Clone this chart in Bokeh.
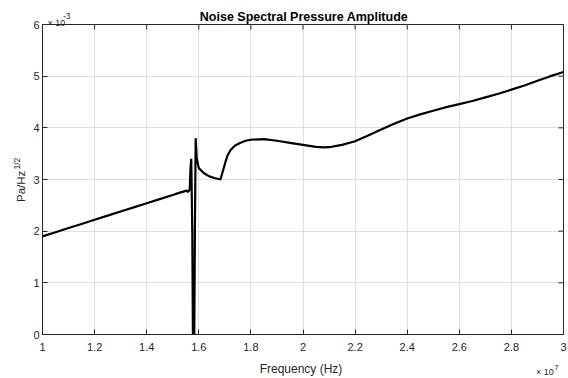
import math
from bokeh.plotting import figure
from bokeh.models import Range1d, FixedTicker, Label
from bokeh.embed import file_html
from bokeh.resources import INLINE

# Frequency in units of 1e7 Hz
freq = [1.00, 1.05, 1.10, 1.15, 1.20, 1.25, 1.30, 1.35, 1.40, 1.45, 1.50, 1.53,
        1.545, 1.552, 1.558, 1.565, 1.568, 1.571, 1.575, 1.578, 1.582, 1.585,
        1.588, 1.592, 1.60, 1.62, 1.64, 1.66, 1.683, 1.69, 1.703, 1.71, 1.722,
        1.74, 1.76, 1.78, 1.80, 1.85, 1.90, 1.95, 2.00, 2.05, 2.08, 2.10, 2.15,
        2.20, 2.25, 2.30, 2.35, 2.40, 2.45, 2.50, 2.55, 2.60, 2.65, 2.70, 2.75,
        2.80, 2.85, 2.90, 2.95, 3.00]
# Amplitude in units of 1e-3 Pa/Hz^(1/2)
amp = [1.90, 1.98, 2.06, 2.14, 2.22, 2.30, 2.38, 2.46, 2.54, 2.62, 2.70, 2.75,
       2.77, 2.79, 2.76, 2.80, 3.20, 3.40, 2.00, -0.50, -0.50, 2.00,
       3.80, 3.40, 3.22, 3.12, 3.06, 3.03, 3.00, 3.12, 3.35, 3.46, 3.57,
       3.66, 3.71, 3.75, 3.77, 3.78, 3.75, 3.71, 3.67, 3.63, 3.62, 3.625, 3.67,
       3.74, 3.85, 3.97, 4.08, 4.18, 4.26, 4.33, 4.40, 4.46, 4.52, 4.59, 4.66,
       4.74, 4.82, 4.91, 5.00, 5.08]

x_ticks = [1.0, 1.2, 1.4, 1.6, 1.8, 2.0, 2.2, 2.4, 2.6, 2.8, 3.0]
x_tick_labels = ["1", "1.2", "1.4", "1.6", "1.8", "2", "2.2", "2.4", "2.6", "2.8", "3"]
y_ticks = [0, 1, 2, 3, 4, 5, 6]
y_tick_labels = ["0", "1", "2", "3", "4", "5", "6"]

title_text = "Noise Spectral Pressure Amplitude"
x_label = "Frequency (Hz)"
y_label = "Pa/Hz"
y_label_sup = "1/2"
exp_base = "\u00d7 10"
y_exp = "-3"
x_exp = "7"

FONT = "Liberation Sans"
AX = "#262626"
W, H = 568, 378
FL, FT, FR, FB = 42, 24, 563, 334   # frame edges in canvas pixels

x0, x1 = 1, 3
y0, y1 = 0, 6

p = figure(width=W, height=H, output_backend="svg", toolbar_location=None,
           x_range=Range1d(x0, x1), y_range=Range1d(y0, y1),
           min_border_left=FL, min_border_right=W - FR, min_border_top=FT,
           min_border_bottom=H - FB)
p.background_fill_color = "white"
p.border_fill_color = "white"
p.outline_line_color = AX
p.outline_line_width = 1

p.grid.grid_line_color = "#dfdfdf"
p.grid.grid_line_width = 1
p.xgrid.ticker = FixedTicker(ticks=x_ticks)
p.ygrid.ticker = FixedTicker(ticks=y_ticks)

p.line(freq, amp, line_color="black", line_width=2.2)

p.xaxis.ticker = FixedTicker(ticks=x_ticks)
p.xaxis.major_label_overrides = dict(zip(x_ticks, x_tick_labels))
p.yaxis.ticker = FixedTicker(ticks=y_ticks)
p.yaxis.major_label_overrides = dict(zip(y_ticks, y_tick_labels))

for ax in (p.xaxis[0], p.yaxis[0]):
    ax.major_tick_in = 5
    ax.major_tick_out = 0
    ax.minor_tick_line_color = None
    ax.axis_line_color = AX
    ax.major_tick_line_color = AX
    ax.major_label_text_font = FONT
    ax.major_label_text_font_size = "11px"
    ax.major_label_text_color = AX
p.xaxis.major_label_standoff = 8
p.yaxis.major_label_standoff = 3

# inward ticks on the top and right edges of the box
p.scatter(x_ticks, [y1] * len(x_ticks), marker="dash", size=10, angle=math.pi / 2,
          line_color=AX, line_width=1)
p.scatter([x1] * len(y_ticks), y_ticks, marker="dash", size=10,
          line_color=AX, line_width=1)

# Labels live in the side panels (the centre panel clips to the frame).
# Each label gets its own slot, stacked outward from the frame; the slot size
# is about 1.14 x font size (text width for horizontal text in side panels).
F = 1.14
def lab(panel, ox, oy, text, X, Y, size, color=AX, style="normal",
        align="left", angle=0.0):
    p.add_layout(Label(x=X - ox, y=oy - Y, x_units="screen", y_units="screen",
                       text=text, text_font=FONT, text_font_size=f"{size}px",
                       text_color=color, text_font_style=style,
                       text_align=align, text_baseline="alphabetic",
                       angle=angle), panel)

# above: title slot, then x10 slot
t_size, e_size = 12.5, 9
lab("above", FL, FT, title_text, 303.5, 16, t_size, color="black",
    style="bold", align="center")
lab("above", FL, FT - F * t_size, exp_base, 55.9, 22, e_size, align="center")
# below: x axis slot, x label slot, x10 slot
xa = 8 + F * 11
xl_size = 12
lab("below", FL, FB + xa + F * xl_size, x_label, 300.5, 370, xl_size, align="center")
lab("below", FL, FB + xa + F * xl_size + F * e_size, exp_base, 553.3, 373.3,
    e_size, align="right")
# left: y axis slot, rotated label slots, then "-3"
ya = 0.556 * 11 + 3
yl_size, sup_size = 11.5, 8.5
s1 = FL - ya - F * yl_size
s2 = s1 - F * sup_size
s3 = s2 - 0.889 * sup_size
lab("left", s1, FB, y_label, 22, 201.5, yl_size, angle=math.pi / 2)
lab("left", s2, FB, y_label_sup, 18.5, 169, sup_size, angle=math.pi / 2)
lab("left", s3, FB, y_exp, 65, 15.5, sup_size)
# right: "7" (narrow enough for the 5 px right border)
lab("right", FR, FB, x_exp, 553.8, 366.7, 8)

open("out.html", "w").write(file_html(p, INLINE))
